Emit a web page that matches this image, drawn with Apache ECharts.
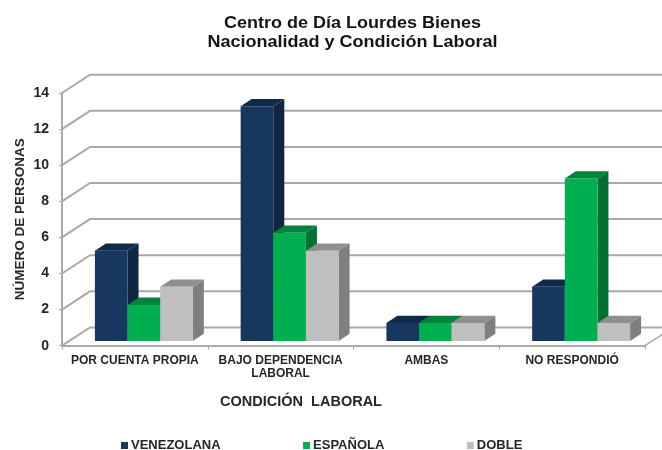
<!DOCTYPE html>
<html>
<head>
<meta charset="utf-8">
<script src="https://cdn.jsdelivr.net/npm/echarts@6/dist/echarts.min.js"></script>
<style>
  html, body { margin: 0; padding: 0; background: #fff; }
  #chart { width: 662px; height: 450px; }
</style>
</head>
<body>
<div id="chart"></div>
<script>
const categories = ["POR CUENTA PROPIA", "BAJO DEPENDENCIA\nLABORAL", "AMBAS", "NO RESPONDIÓ"];
const venezolana = [5, 13, 1, 3];
const espanola = [2, 6, 1, 9];
const doble = [3, 5, 1, 1];
const yTicks = [0, 2, 4, 6, 8, 10, 12, 14];
const seriesNames = ["VENEZOLANA", "ESPAÑOLA", "DOBLE"];
const chartTitle = "Centro de Día Lourdes Bienes\nNacionalidad y Condición Laboral";

const fontFamily = '"Liberation Sans", Arial, sans-serif';
const textColor = "#262626";
const lineColor = "#a9a9a9";

// profundidad de la pared del fondo y de las barras
const wallX = 28, wallY = -18.3;
const barX = 9, barY = -4.7;
const depthX = 11, depthY = -7.3;
const barRatio = 0.224;

// pared izquierda + pared del fondo
let renderWall = (params, api) => {
  let y = api.coord([0, api.value(0)])[1];
  let left = params.coordSys.x;
  return {
    type: "polyline",
    shape: { points: [[left, y], [left + wallX, y + wallY], [662, y + wallY]] },
    style: { fill: "none", stroke: lineColor, lineWidth: 2 },
    silent: true
  };
};

let renderFloorEdge = (params, api) => {
  let y = api.coord([0, 0])[1];
  let right = params.coordSys.x + params.coordSys.width;
  return {
    type: "line",
    shape: { x1: right, y1: y, x2: right + wallX, y2: y + wallY },
    style: { stroke: lineColor, lineWidth: 1.5 },
    silent: true
  };
};

let makeBar = (index, colors) => (params, api) => {
  let top = api.coord([api.value(0), api.value(1)]);
  let base = api.coord([api.value(0), 0]);
  let w = api.size([1, 0])[0] * barRatio;
  let x0 = top[0] + barX + (index - 1.5) * w;
  let x1 = x0 + w;
  let yTop = top[1] + barY;
  let yBase = base[1] + barY;
  return {
    type: "group",
    children: [
      {
        type: "polygon",
        shape: { points: [[x1, yTop], [x1 + depthX, yTop + depthY], [x1 + depthX, yBase + depthY], [x1, yBase]] },
        style: { fill: colors.side }
      },
      {
        type: "polygon",
        shape: { points: [[x0, yTop], [x0 + depthX, yTop + depthY], [x1 + depthX, yTop + depthY], [x1, yTop]] },
        style: { fill: colors.top }
      },
      {
        type: "rect",
        shape: { x: x0, y: yTop, width: w, height: yBase - yTop },
        style: { fill: colors.front }
      }
    ]
  };
};

let barSeries = (index, values, colors) => ({
  name: seriesNames[index],
  type: "custom",
  clip: false,
  z: 3,
  itemStyle: { color: colors.front },
  encode: { x: 0, y: 1 },
  data: values.map((v, i) => [i, v]),
  renderItem: makeBar(index, colors)
});

let myChart = echarts.init(document.getElementById("chart"), null, { renderer: "canvas" });

myChart.setOption({
  animation: false,
  backgroundColor: "#fff",
  textStyle: { fontFamily: fontFamily },
  // el titulo va ensanchado como en el original
  graphic: [
    {
      type: "text",
      x: 352.5,
      y: 14,
      scaleX: 1.125,
      style: {
        text: chartTitle,
        align: "center",
        fontFamily: fontFamily,
        fontSize: 16,
        fontWeight: "bold",
        lineHeight: 19,
        fill: "#141414"
      }
    }
  ],
  title: {
    text: "CONDICIÓN  LABORAL",
    left: 296,
    top: 389,
    textAlign: "center",
    textStyle: { fontFamily: fontFamily, fontSize: 14.5, fontWeight: "bold", color: textColor }
  },
  legend: {
    data: seriesNames,
    left: 121,
    top: 439,
    padding: 0,
    icon: "rect",
    itemWidth: 7,
    itemHeight: 7,
    itemGap: 82.5,
    textStyle: { fontFamily: fontFamily, fontSize: 13, fontWeight: "bold", color: textColor, padding: [0, 0, 0, -2] }
  },
  grid: { left: 62, right: 17, top: 93, bottom: 104.3, containLabel: false, outerBoundsMode: "none" },
  xAxis: {
    type: "category",
    data: categories,
    axisLine: { show: true, lineStyle: { color: lineColor, width: 2 } },
    axisTick: { show: true, alignWithLabel: false, length: 4, lineStyle: { color: lineColor, width: 1 } },
    axisLabel: {
      interval: 0,
      margin: 8,
      fontFamily: fontFamily,
      fontSize: 12,
      fontWeight: "bold",
      lineHeight: 13,
      color: textColor
    }
  },
  yAxis: {
    type: "value",
    min: 0,
    max: 14,
    interval: 2,
    name: "NÚMERO DE PERSONAS",
    nameLocation: "middle",
    nameGap: 35,
    nameMoveOverlap: false,
    nameTextStyle: { fontFamily: fontFamily, fontSize: 13.5, fontWeight: "bold", color: textColor },
    axisLine: { show: true, lineStyle: { color: lineColor, width: 2 } },
    axisTick: { show: true, length: 3, lineStyle: { color: lineColor, width: 1 } },
    axisLabel: { margin: 13, fontFamily: fontFamily, fontSize: 14, fontWeight: "bold", color: textColor },
    splitLine: { show: false }
  },
  series: [
    {
      type: "custom",
      clip: false,
      z: 1,
      silent: true,
      encode: { y: 0 },
      data: yTicks.map((t) => [t]),
      renderItem: renderWall
    },
    {
      type: "custom",
      clip: false,
      z: 1,
      silent: true,
      data: [[0]],
      renderItem: renderFloorEdge
    },
    barSeries(0, venezolana, { front: "#17375e", side: "#10253f", top: "#10294a" }),
    barSeries(1, espanola, { front: "#00b050", side: "#007033", top: "#00843c" }),
    barSeries(2, doble, { front: "#bfbfbf", side: "#7f7f7f", top: "#8f8f8f" })
  ]
});
</script>
</body>
</html>
